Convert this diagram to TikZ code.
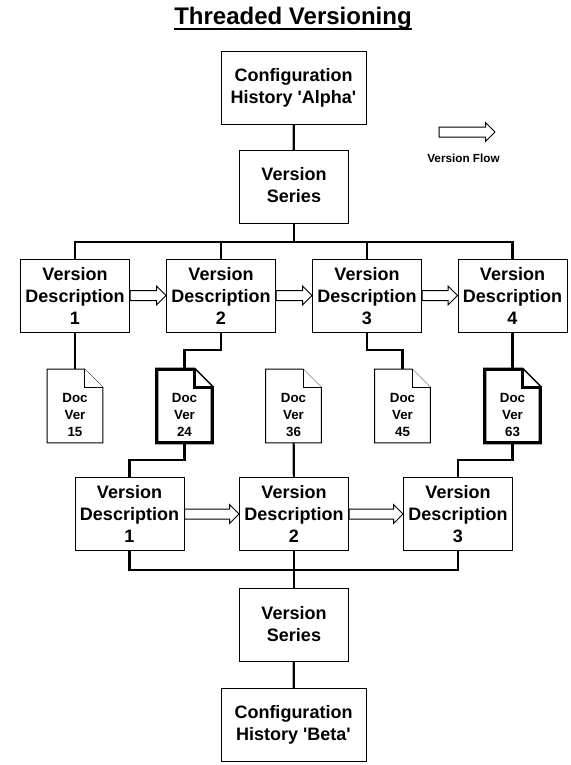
\documentclass[tikz,border=0pt]{standalone}
\usepackage{fontspec}
\setmainfont{Liberation Sans}
\usetikzlibrary{calc}
\tikzset{
  wire/.style={black,line width=1.6pt,line join=miter},
  heavywire/.style={black,line width=2.2pt,line join=miter},
  box/.style={draw=black,line width=0.75pt,fill=white,inner sep=0pt,align=center,
              minimum width=81.75pt,minimum height=54.75pt,
              font=\fontsize{13.5}{16.5}\selectfont\bfseries},
  widebox/.style={box,minimum width=108.75pt},
  page/.style={inner sep=0pt,align=center,minimum width=41.25pt,minimum height=54.75pt,
               font=\fontsize{10}{12.75}\selectfont\bfseries},
  thinpage/.style={draw=black,line width=0.75pt,line join=miter,fill=white},
  thickpage/.style={draw=black,line width=2.4pt,line join=miter,fill=white},
  hollow/.style={draw=black,line width=0.75pt,fill=white,line join=miter},
}
\newcommand{\flowarrow}[2]{%
  \draw[hollow] ($#1+(0,-5)$) -- ($#2+(-9.5,-5)$) -- ($#2+(-9.5,-9.5)$) -- #2
    -- ($#2+(-9.5,9.5)$) -- ($#2+(-9.5,5)$) -- ($#1+(0,5)$) -- cycle;}
\begin{document}
\begin{tikzpicture}[x=0.75pt,y=-0.75pt]
  \path[use as bounding box,fill=white] (0,0) rectangle (571,765);
  \node[inner sep=0pt,font=\fontsize{18}{20}\selectfont\bfseries] (title) at (293,18.5)
    {Threaded Versioning};
  \draw[line width=1.6pt] ($(title.west)+(0,10.5)$) -- ($(title.east)+(0,10.5)$);

  % top of the tree
  \node[widebox] (alpha) at (293.5,87.5) {Configuration\\History \textquotesingle Alpha\textquotesingle};
  \node[box] (seriesA) at (294,187) {Version\\Series\\[-13.5pt]\mbox{}};

  % first row
  \node[box] (descA) at (75,295.5) {Version\\Description\\1};
  \node[box] (descB) at (221,295.5) {Version\\Description\\2};
  \node[box] (descC) at (367,295.5) {Version\\Description\\\smash{3}};
  \node[box] (descD) at (512.5,295.5) {Version\\Description\\4};

  % documents
  \foreach \name/\cx/\num/\look in {docA/75/15/thinpage,docB/184.5/24/thickpage,docC/293.5/36/thinpage,
                                    docD/402.5/45/thinpage,docE/512.5/63/thickpage}{
    \node[page] (\name) at (\cx,406) {};
    \draw[\look] (\name.south west) -- (\name.north west) -- ($(\name.north east)+(-18,0)$)
      -- ($(\name.north east)+(0,18)$) -- (\name.south east) -- cycle;
    \draw[\look] ($(\name.north east)+(-18,0)$) -- ($(\name.north east)+(-18,18)$)
      -- ($(\name.north east)+(0,18)$);
    \node[page] (\name text) at ($(\name)+(0,8.5)$) {Doc\\Ver\\\num};
  }

  % second row
  \node[box] (descE) at (129.5,514) {Version\\Description\\1};
  \node[box] (descF) at (294,514) {Version\\Description\\2};
  \node[box] (descG) at (458,514) {Version\\Description\\\smash{3}};

  % bottom of the tree
  \node[box] (seriesB) at (294,624.5) {Version\\Series};
  \node[widebox] (beta) at (293.5,725) {Configuration\\History \textquotesingle Beta\textquotesingle};

  % connectors
  \draw[wire] (alpha) -- (seriesA);
  \coordinate (busA) at (294,242);
  \draw[wire] (seriesA) -- (busA);
  \draw[wire] (descA.north) |- (busA) -| (descD.north);
  \draw[wire] (descB.north) -- (descB.north |- busA);
  \draw[wire] (descC.north) -- (descC.north |- busA);

  \draw[wire] (descA) -- (docA);
  \draw[wire] (descB.south) |- ($(docB.north)+(0,-19)$) -- (docB.north);
  \draw[wire] (descC.south) |- ($(docD.north)+(0,-19)$) -- (docD.north);
  \draw[heavywire] (descD) -- (docE);

  \draw[heavywire] (docB.south) |- ($(descE.north)+(0,-17)$) -- (descE.north);
  \draw[wire] (docC) -- (descF);
  \draw[heavywire] (docE.south) |- ($(descG.north)+(0,-17)$) -- (descG.north);

  \coordinate (busB) at (294,570);
  \draw[wire] (descE.south) |- (busB) -| (descG.south);
  \draw[wire] (descF) -- (seriesB);
  \draw[wire] (seriesB) -- (beta);

  % hollow arrows
  \flowarrow{(descA.east)}{(descB.west)}
  \flowarrow{(descB.east)}{(descC.west)}
  \flowarrow{(descC.east)}{(descD.west)}
  \flowarrow{(descE.east)}{(descF.west)}
  \flowarrow{(descF.east)}{(descG.west)}

  % legend
  \coordinate (flowtail) at (439,132);
  \coordinate (flowtip) at (495,132);
  \flowarrow{(flowtail)}{(flowtip)}
  \node[inner sep=0pt,font=\fontsize{8.8}{10}\selectfont\bfseries] (flowlabel) at (463.5,158) {Version Flow};
\end{tikzpicture}
\end{document}
